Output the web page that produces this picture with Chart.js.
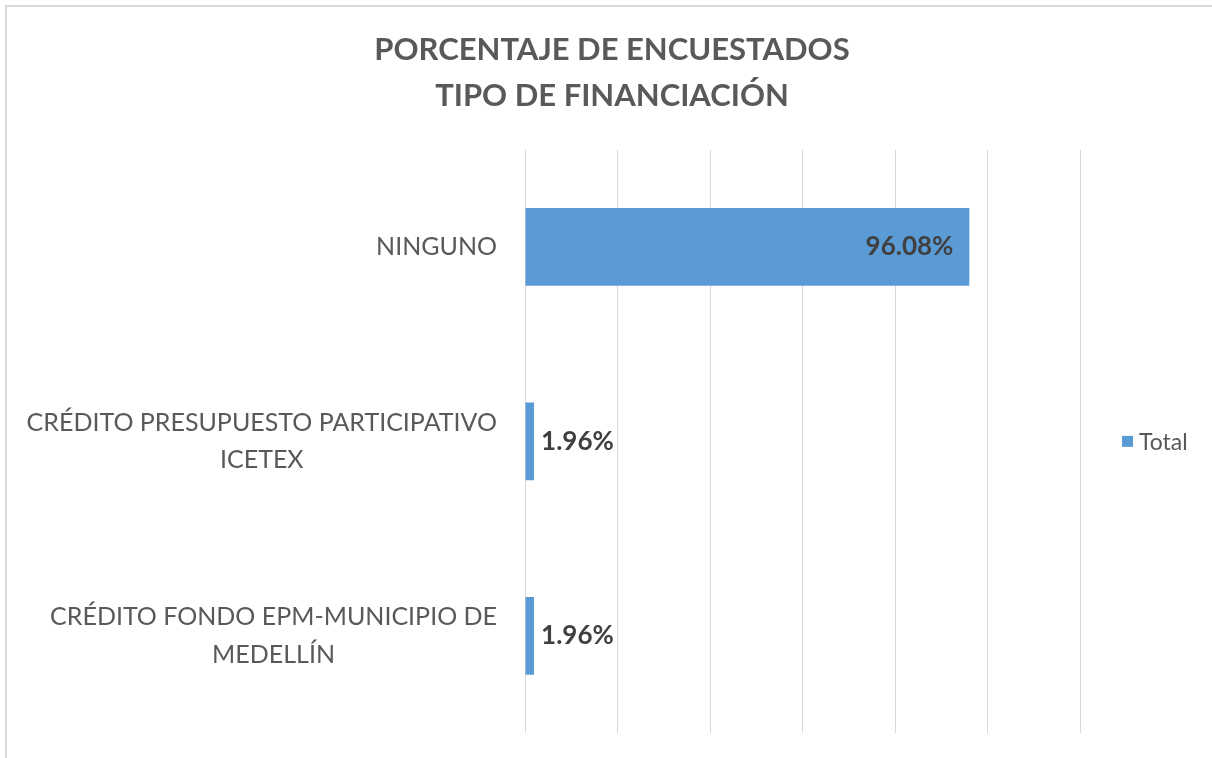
<!DOCTYPE html>
<html><head><meta charset="utf-8">
<script src="https://cdn.jsdelivr.net/npm/chart.js@4/dist/chart.umd.min.js"></script>
<style>
html,body{margin:0;padding:0;background:#fff;overflow:hidden}
#wrap{position:relative;width:1212px;height:758px}
#frame{position:absolute;left:5px;top:5px;width:1400px;height:1000px;border:2px solid #d9d9d9;box-sizing:border-box}
canvas{position:absolute;left:0;top:0}
</style></head><body>
<div id="wrap"><div id="frame"></div><canvas id="c" width="1212" height="758"></canvas></div>
<script>
const categories = [["NINGUNO"], ["CRÉDITO PRESUPUESTO PARTICIPATIVO", "ICETEX"], ["CRÉDITO FONDO EPM-MUNICIPIO DE", "MEDELLÍN"]];
const totalValues = [96.08, 1.96, 1.96];
const seriesName = "Total";
const titleLines = ["PORCENTAJE DE ENCUESTADOS", "TIPO DE FINANCIACIÓN"];
const xTickValues = [0, 20, 40, 60, 80, 100, 120];

const FONT = "Lato";

const yLabelPlugin = {
  id: 'ylabels',
  afterDraw(chart) {
    const s = chart.scales.y, ctx = chart.ctx;
    ctx.save();
    ctx.font = '25px ' + FONT;
    ctx.fillStyle = '#595959';
    ctx.textBaseline = 'middle';
    ctx.textAlign = 'center';
    const right = chart.chartArea.left - 28, lh = 37.5;
    chart.data.labels.forEach((lines, i) => {
      const y = s.getPixelForTick(i);
      const w = Math.max(...lines.map(l => ctx.measureText(l).width));
      const cx = right - w / 2;
      lines.forEach((l, j) => ctx.fillText(l, cx, y + (j - (lines.length - 1) / 2) * lh));
    });
    ctx.restore();
  }
};

const valueLabelPlugin = {
  id: 'vlabels',
  afterDatasetsDraw(chart) {
    const ctx = chart.ctx;
    const meta = chart.getDatasetMeta(0);
    ctx.save();
    ctx.font = 'bold 26px ' + FONT;
    ctx.fillStyle = '#404040';
    ctx.textBaseline = 'middle';
    meta.data.forEach((bar, i) => {
      const v = chart.data.datasets[0].data[i];
      const txt = v.toFixed(2) + '%';
      const w = bar.x - bar.base;
      if (w > 120) { ctx.textAlign = 'right'; ctx.fillText(txt, bar.x - 16, bar.y); }
      else { ctx.textAlign = 'left'; ctx.fillText(txt, bar.x + 7, bar.y); }
    });
    ctx.restore();
  }
};

const legendPlugin = {
  id: 'sideLegend',
  afterDraw(chart) {
    const ctx = chart.ctx, ca = chart.chartArea;
    const ds = chart.data.datasets[0];
    const cy = (ca.top + ca.bottom) / 2;
    const x = ca.right + 42;
    ctx.save();
    ctx.fillStyle = ds.backgroundColor;
    ctx.fillRect(x, cy - 5.5, 11, 11);
    ctx.font = '23px ' + FONT;
    ctx.fillStyle = '#595959';
    ctx.textAlign = 'left';
    ctx.textBaseline = 'middle';
    ctx.fillText(ds.label, x + 17, cy + 1);
    ctx.restore();
  }
};

new Chart(document.getElementById('c'), {
  type: 'bar',
  data: {
    labels: categories,
    datasets: [{
      label: seriesName,
      data: totalValues,
      backgroundColor: '#5B9BD5',
      borderWidth: 0,
      barPercentage: 0.4,
      categoryPercentage: 1
    }]
  },
  options: {
    indexAxis: 'y',
    responsive: false,
    animation: false,
    devicePixelRatio: 1,
    layout: { padding: { left: 12, right: 0, top: 0, bottom: 25 } },
    scales: {
      x: {
        min: 0, max: 120,
        afterBuildTicks: (s) => { s.ticks = xTickValues.map(v => ({ value: v })); },
        ticks: { display: false },
        grid: { color: '#d9d9d9', lineWidth: 1, drawTicks: false },
        border: { display: false }
      },
      y: {
        ticks: { display: false },
        grid: { display: false, drawTicks: false },
        border: { display: false },
        afterFit: (s) => { s.width = 513; }
      },
      yRight: {
        type: 'category',
        position: 'right',
        ticks: { display: false },
        grid: { display: false, drawTicks: false },
        border: { display: false },
        afterFit: (s) => { s.width = 132; }
      }
    },
    plugins: {
      title: {
        display: true,
        text: titleLines,
        color: '#595959',
        font: { family: FONT, size: 31, weight: 'bold', lineHeight: 1.48 },
        padding: { top: 27, bottom: 31 }
      },
      legend: { display: false },
      tooltip: { enabled: false }
    }
  },
  plugins: [yLabelPlugin, valueLabelPlugin, legendPlugin]
});
</script>
</body></html>
